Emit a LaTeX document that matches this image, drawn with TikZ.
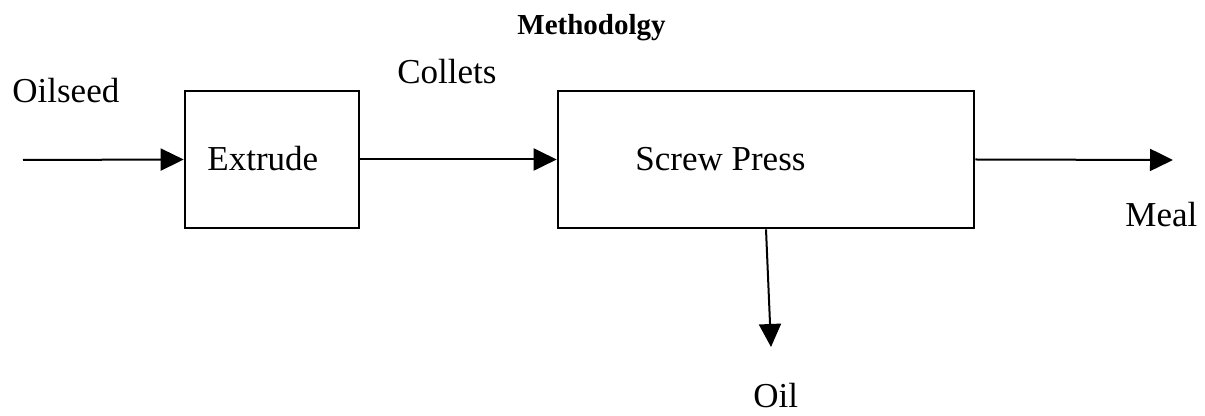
\documentclass[tikz,border=0pt]{standalone}
\usepackage{fontspec}
\setmainfont{Liberation Serif}
\usetikzlibrary{arrows.meta}
\begin{document}
\begin{tikzpicture}[x=0.5pt, y=-0.5pt, line join=miter, font=\fontsize{17.5}{20}\selectfont, >={Triangle[length=11.5pt,width=11pt]}]
			\tikzset{box style/.style={draw, line width=1.3pt, inner sep=0pt, minimum height=68.5pt},
				flow/.style={->, line width=1pt},
				txt/.style={anchor=base west, inner sep=0pt}}
			\useasboundingbox (0,0) rectangle (1205,416);
			\node[txt, font=\fontsize{14.5}{17}\selectfont\bfseries] (title) at (517,35) {Methodolgy};
			\node[box style, minimum width=87pt] (extrude) at (272,159.5) {};
			\node[box style, minimum width=208pt] (press) at (766,159.5) {};
			\node[txt] (extrudetxt) at (207,171) {Extrude};
			\node[txt] (presstxt) at (635,171) {Screw Press};
			\node[txt] (oilseed) at (12,103) {Oilseed};
			\node[txt] (collets) at (397,84) {Collets};
			\node[txt] (meal) at (1125,227) {Meal};
			\node[txt] (oil) at (753,408) {Oil};
			\coordinate (feed) at (23,160);
			\coordinate (mealtip) at (1173,160);
			\coordinate (oiltip) at (771,347);
			\draw[flow] (feed) -- (extrude.west);
			\draw[flow] (extrude.east) -- (press.west);
			\draw[flow] (press.east) -- (mealtip);
			\draw[flow] (press.south) -- (oiltip);
		\end{tikzpicture}
\end{document}
